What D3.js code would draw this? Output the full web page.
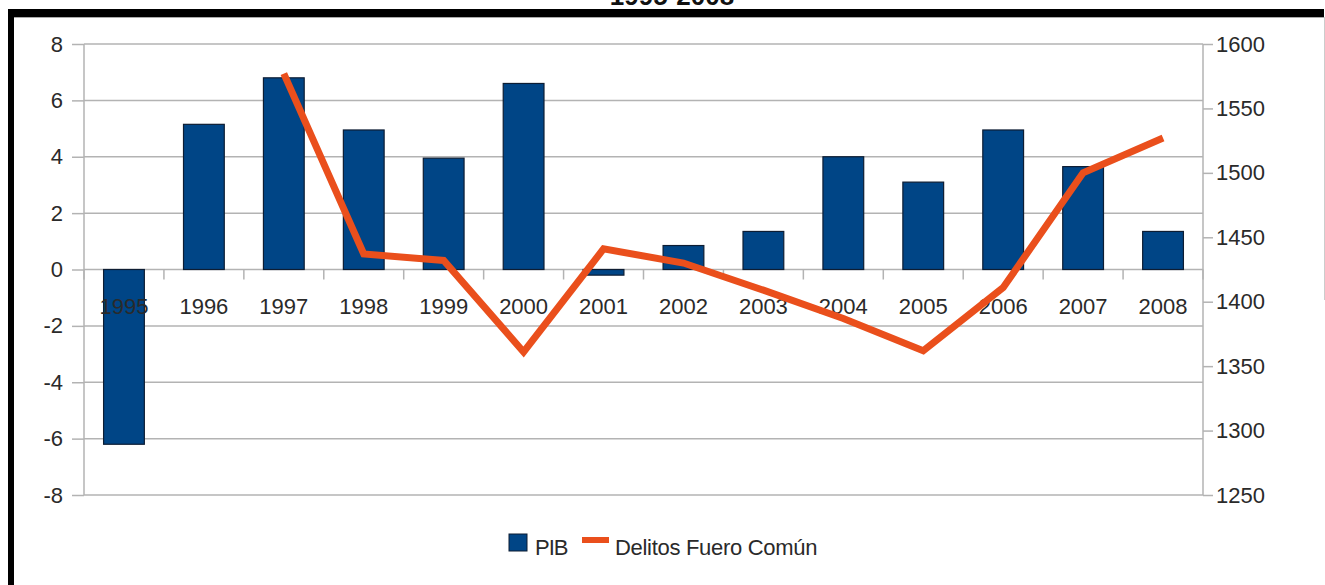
<!DOCTYPE html>
<html>
<head>
<meta charset="utf-8">
<script src="https://cdn.jsdelivr.net/npm/d3@7"></script>
<style>
  html, body { margin: 0; padding: 0; background: #fff; }
  svg { display: block; }
  text { font-family: "Liberation Sans", Arial, sans-serif; }
</style>
</head>
<body>
<svg id="chart" width="1325" height="585"></svg>
<script>
const years = ["1995","1996","1997","1998","1999","2000","2001","2002","2003","2004","2005","2006","2007","2008"];
const pib = [-6.2, 5.15, 6.8, 4.95, 3.95, 6.6, -0.2, 0.85, 1.35, 4.0, 3.1, 4.95, 3.65, 1.35];
const delitos = [null, null, 1577, 1437, 1432, 1361, 1441, 1430, 1409, 1387, 1362, 1411, 1500, 1527];
const leftTicks = [-8, -6, -4, -2, 0, 2, 4, 6, 8];
const rightTicks = [1250, 1300, 1350, 1400, 1450, 1500, 1550, 1600];
const title = "1995-2008";
const seriesNames = ["PIB", "Delitos Fuero Común"];

const svg = d3.select("#chart");
const W = 1325, H = 585;
const plot = { left: 84, right: 1203, top: 44, bottom: 495 };
const barColor = "#004586", lineColor = "#ea4f1c", gridColor = "#b3b3b3", textColor = "#2a2a2a";

const x = d3.scaleBand().domain(years).range([plot.left, plot.right]).padding(0);
const yL = d3.scaleLinear().domain([-8, 8]).range([plot.bottom, plot.top]);
const yR = d3.scaleLinear().domain([1250, 1600]).range([plot.bottom, plot.top]);

// title (mostly hidden behind frame, as in the reference)
svg.append("text").attr("x", 672).attr("y", 5).attr("text-anchor", "middle")
  .attr("font-size", 26).attr("font-weight", "bold").attr("fill", "#111").text(title);

// gridlines
svg.append("g").selectAll("line").data(leftTicks).join("line")
  .attr("x1", plot.left).attr("x2", plot.right)
  .attr("y1", d => yL(d)).attr("y2", d => yL(d))
  .attr("stroke", gridColor).attr("stroke-width", 1.5);

// vertical axis lines
[plot.left, plot.right].forEach(px => {
  svg.append("line").attr("x1", px).attr("x2", px).attr("y1", plot.top).attr("y2", plot.bottom)
    .attr("stroke", gridColor).attr("stroke-width", 1.5);
});

const fmt = d => String(d);

// left axis
const axL = svg.append("g").attr("transform", `translate(${plot.left},0)`)
  .call(d3.axisLeft(yL).tickValues(leftTicks).tickSize(12).tickPadding(9).tickFormat(fmt));
axL.select(".domain").remove();
axL.selectAll("line").attr("stroke", gridColor).attr("stroke-width", 1.5);
axL.selectAll("text").attr("font-size", 22).attr("fill", textColor)
  .attr("font-family", "'Liberation Sans', Arial, sans-serif");

// right axis
const axR = svg.append("g").attr("transform", `translate(${plot.right},0)`)
  .call(d3.axisRight(yR).tickValues(rightTicks).tickSize(10).tickPadding(3).tickFormat(fmt));
axR.select(".domain").remove();
axR.selectAll("line").attr("stroke", gridColor).attr("stroke-width", 1.5);
axR.selectAll("text").attr("font-size", 22).attr("fill", textColor)
  .attr("font-family", "'Liberation Sans', Arial, sans-serif");

// x-axis ticks at category boundaries along zero line
const bounds = years.map(d => x(d)).concat([plot.right]);
svg.append("g").selectAll("line").data(bounds).join("line")
  .attr("x1", d => d).attr("x2", d => d)
  .attr("y1", yL(0)).attr("y2", yL(0) + 10)
  .attr("stroke", gridColor).attr("stroke-width", 1.5);

// bars
const bw = x.bandwidth() * 0.51;
svg.append("g").selectAll("rect").data(years).join("rect")
  .attr("x", d => x(d) + x.bandwidth() / 2 - bw / 2)
  .attr("width", bw)
  .attr("y", (d, i) => Math.min(yL(0), yL(pib[i])))
  .attr("height", (d, i) => Math.abs(yL(pib[i]) - yL(0)))
  .attr("fill", barColor).attr("stroke", "#0d1d33").attr("stroke-width", 1.2);

// x labels
svg.append("g").selectAll("text").data(years).join("text")
  .attr("x", d => x(d) + x.bandwidth() / 2).attr("y", 314)
  .attr("text-anchor", "middle").attr("font-size", 22).attr("fill", textColor)
  .text(d => d);

// line
const pts = years.map((d, i) => ({ x: x(d) + x.bandwidth() / 2, v: delitos[i] })).filter(p => p.v != null);
svg.append("path").datum(pts)
  .attr("d", d3.line().x(p => p.x).y(p => yR(p.v)))
  .attr("fill", "none").attr("stroke", lineColor).attr("stroke-width", 7)
  .attr("stroke-linejoin", "miter").attr("stroke-linecap", "butt");

// legend
const lg = svg.append("g");
lg.append("rect").attr("x", 509).attr("y", 534).attr("width", 18).attr("height", 17)
  .attr("fill", barColor).attr("stroke", "#0d1d33").attr("stroke-width", 1);
lg.append("text").attr("x", 535).attr("y", 555).attr("font-size", 22).attr("fill", textColor)
  .attr("letter-spacing", -1).text(seriesNames[0]);
lg.append("line").attr("x1", 582).attr("x2", 609).attr("y1", 540).attr("y2", 540)
  .attr("stroke", lineColor).attr("stroke-width", 6);
lg.append("text").attr("x", 615).attr("y", 555).attr("font-size", 22).attr("fill", textColor)
  .attr("letter-spacing", -0.3).text(seriesNames[1]);

// black frame
svg.append("rect").attr("x", 8).attr("y", 9).attr("width", 1316).attr("height", 8).attr("fill", "#000");
svg.append("rect").attr("x", 8).attr("y", 9).attr("width", 6).attr("height", H - 9).attr("fill", "#000");
svg.append("line").attr("x1", 14).attr("x2", 1324).attr("y1", 17.5).attr("y2", 17.5).attr("stroke", "#aaa").attr("stroke-width", 1);
svg.append("line").attr("x1", 1324.5).attr("x2", 1324.5).attr("y1", 17).attr("y2", 300).attr("stroke", "#ccc").attr("stroke-width", 1);
</script>
</body>
</html>
